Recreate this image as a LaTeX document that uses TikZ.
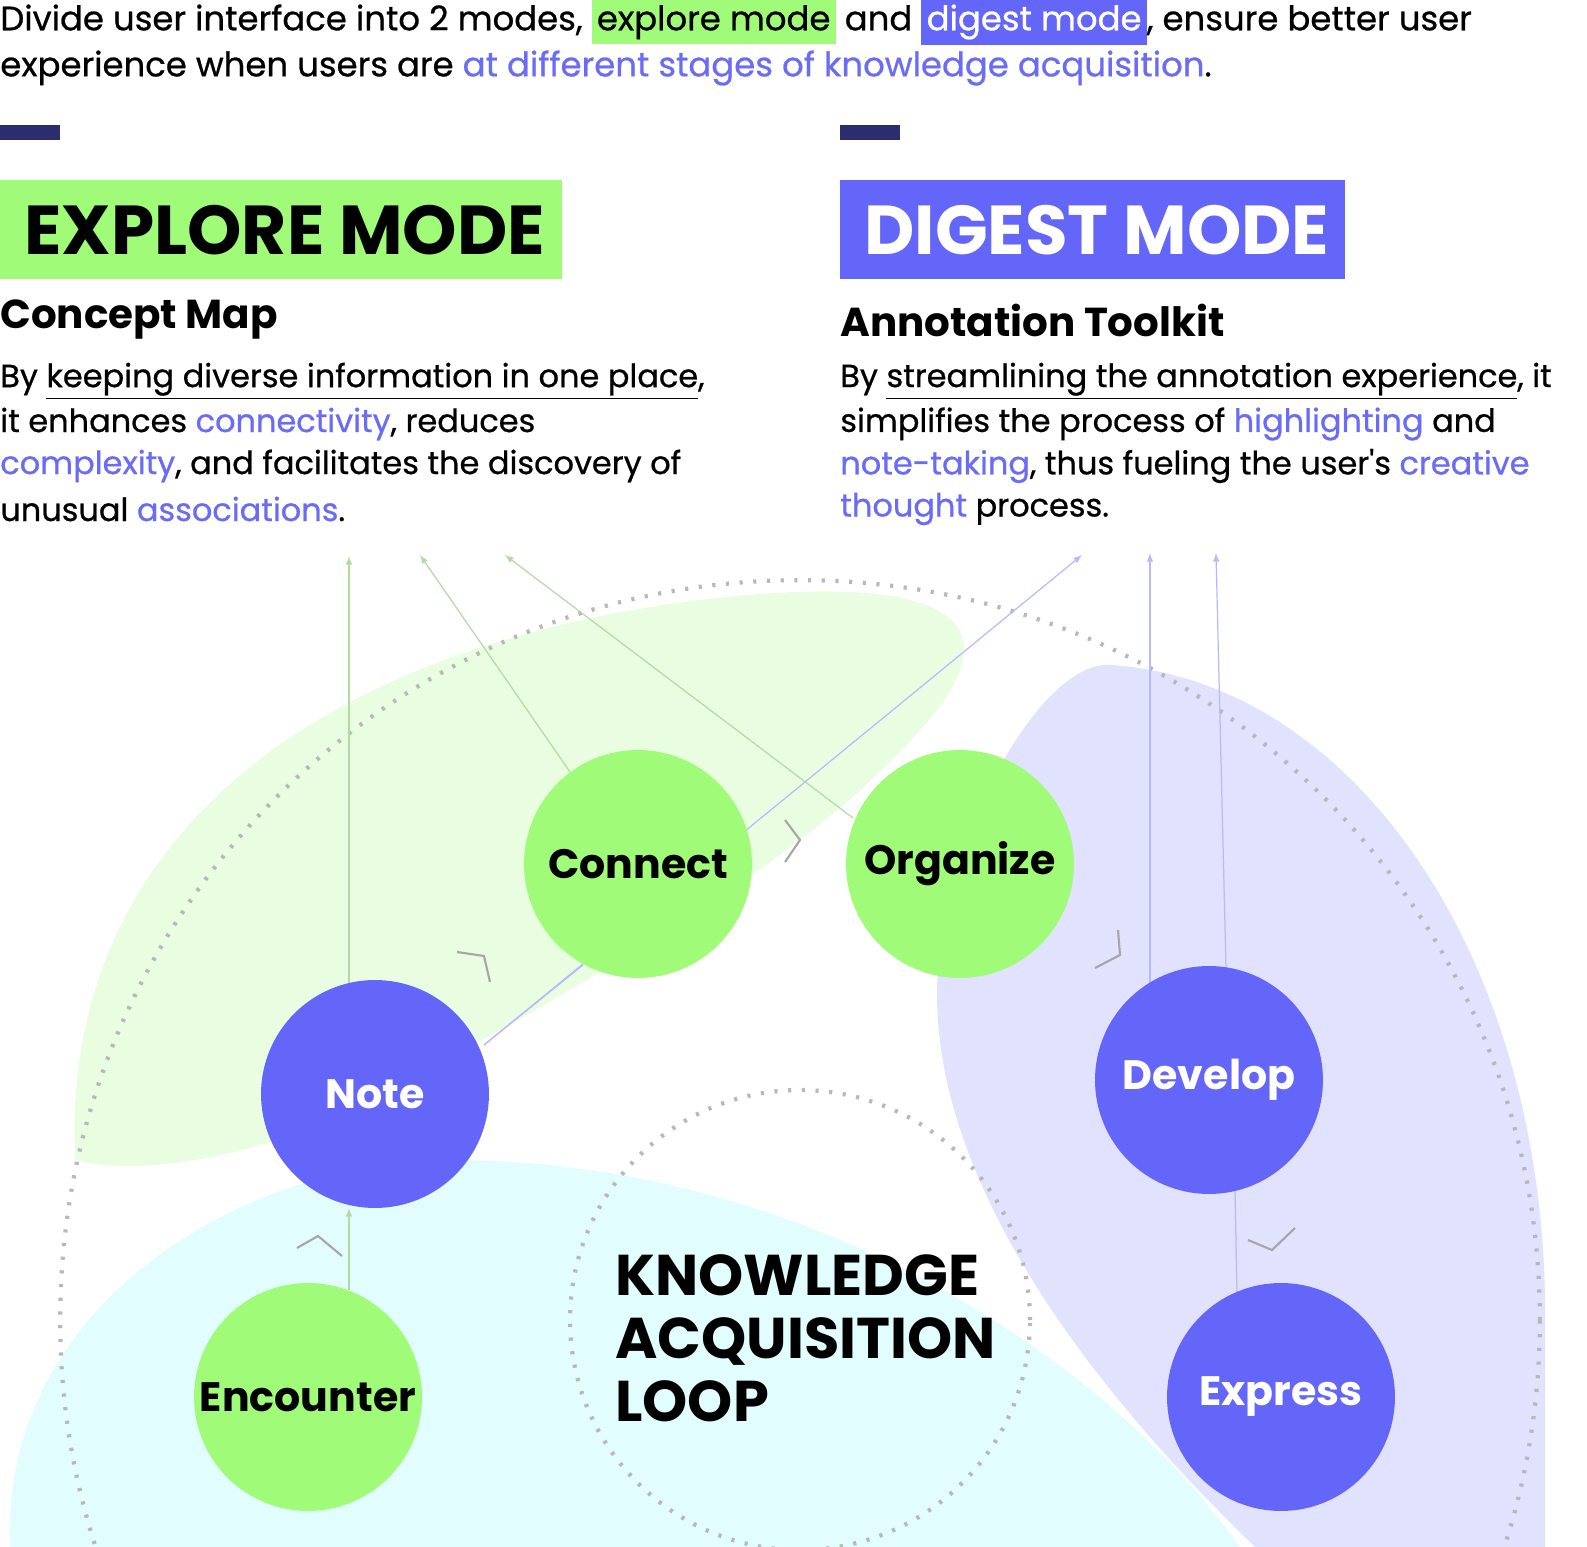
\documentclass[tikz,border=0pt]{standalone}
\usepackage{fontspec}
\setmainfont{Poppins}
\newfontfamily\medium{Poppins}[FakeBold=0.7]
\definecolor{leaf}{HTML}{A0FB78}
\definecolor{violet}{HTML}{6466FA}
\definecolor{linkblue}{HTML}{6A6CF5}
\definecolor{navy}{HTML}{2B2D6E}
\definecolor{greenbg}{HTML}{E9FDE0}
\definecolor{cyanbg}{HTML}{E1FDFD}
\definecolor{lavbg}{HTML}{E1E2FE}
\definecolor{dotgray}{HTML}{B8B8B8}
\newcommand{\hl}[1]{\textcolor{linkblue}{#1}}
\begin{document}
\begin{tikzpicture}[x=0.02cm,y=-0.02cm]
\tikzset{
  line/.style={anchor=west,inner sep=0pt,font=\medium\fontsize{19.3}{22}\selectfont},
  para/.style={anchor=west,inner sep=0pt,font=\medium\fontsize{18.2}{21}\selectfont},
  stage/.style={circle,minimum size=4.56cm,inner sep=0pt,font=\bfseries\fontsize{23.4}{26}\selectfont},
  greenstage/.style={stage,fill=leaf,text=black},
  bluestage/.style={stage,fill=violet,text=white},
  loop/.style={dotgray,line width=2.4pt,dash pattern=on 1.8pt off 6pt},
  chev/.style={gray!70,line width=1.2pt},
  glink/.style={leaf!60!gray!70,line width=0.7pt,-latex},
  blink/.style={violet!45,line width=0.7pt,-latex}
}
\useasboundingbox (0,0) rectangle (1587,1547);
% header
\node[line] (l1) at (0,22) {Divide user interface into 2 modes, \colorbox{leaf}{explore mode} and \colorbox{violet}{\textcolor{white}{digest mode}}, ensure better user};
\node[line] (l2) at (0,68) {experience when users are \hl{at different stages of knowledge acquisition}.};
\fill[navy] (0,125) rectangle (60,140);
\fill[navy] (840,125) rectangle (900,140);
\fill[leaf] (0,180) rectangle (562,279);
\fill[violet] (840,180) rectangle (1345,279);
\node[anchor=west,inner sep=0pt,font=\bfseries\fontsize{39.4}{44}\selectfont] (explore) at (24,230) {EXPLORE MODE};
\node[anchor=west,inner sep=0pt,text=white,font=\bfseries\fontsize{39.4}{44}\selectfont] (digest) at (864,230) {DIGEST MODE};
\node[anchor=west,inner sep=0pt,font=\bfseries\fontsize{23}{26}\selectfont] (cmap) at (0,320) {Concept Map};
\node[anchor=west,inner sep=0pt,font=\bfseries\fontsize{23}{26}\selectfont] (atool) at (840,320) {Annotation Toolkit};
% paragraphs
\node[para] at (0,381) {By \underline{keeping diverse information in one place},};
\node[para] at (0,424) {it enhances \hl{connectivity}, reduces};
\node[para] at (0,466) {\hl{complexity}, and facilitates the discovery of};
\node[para] at (0,509) {unusual \hl{associations}.};
\node[para] at (840,381) {By \underline{streamlining the annotation experience}, it};
\node[para] at (840,424) {simplifies the process of \hl{highlighting} and};
\node[para] at (840,466) {\hl{note-taking}, thus fueling the user's \hl{creative}};
\node[para] at (840,509) {\hl{thought} process.};
% backgrounds
\begin{scope}
\clip (0,540) rectangle (1587,1547);
\fill[greenbg] (75,1160) .. controls (60,850) and (300,650) .. (700,600) .. controls (950,570) and (1020,620) .. (920,730) .. controls (800,870) and (550,1000) .. (430,1070) .. controls (300,1150) and (150,1180) .. (75,1160) -- cycle;
\fill[cyanbg] (10,1547) .. controls (0,1300) and (250,1160) .. (450,1160) .. controls (800,1160) and (1100,1350) .. (1240,1547) -- cycle;
\fill[lavbg] (1255,1547) .. controls (1000,1300) and (920,1100) .. (940,950) .. controls (960,800) and (1050,660) .. (1110,665) .. controls (1350,680) and (1540,950) .. (1545,1300) -- (1545,1547) -- cycle;
\draw[loop] (800,1320) circle[radius=14.8cm];
\draw[loop] (800,1320) circle[radius=4.6cm];
\end{scope}
% chevrons
\draw[chev] (297,1248) -- (318,1236) -- (342,1256);
\draw[chev] (457,952) -- (484,956) -- (490,982);
\draw[chev] (785,820) -- (800,840) -- (785,862);
\draw[chev] (1118,930) -- (1120,955) -- (1095,968);
\draw[chev] (1248,1240) -- (1272,1250) -- (1295,1228);
% arrow targets
\coordinate (t1) at (349,556);
\coordinate (t2) at (420,555);
\coordinate (t3) at (505,555);
\coordinate (t4) at (1082,555);
\coordinate (t5) at (1150,553);
\coordinate (t6) at (1216,553);
\coordinate (nb) at (484,1045);
% links behind nodes
\draw[glink] (349,1290) -- (349,1208);
\draw[glink] (349,985) -- (t1);
\draw[glink] (570,772) -- (t2);
\draw[glink] (853,818) -- (t3);
\draw[blink] (nb) -- (t4);
\draw[blink] (1150,985) -- (t5);
\draw[blink] (1226,968) -- (t6);
\draw[blink,-] (1235,1190) -- (1237,1292);
% stages
\node[greenstage] (encounter) at (308,1397) {Encounter};
\node[bluestage] (note) at (375,1094) {Note};
\node[greenstage] (connect) at (638,864) {Connect};
\node[greenstage] (organize) at (960,864) {Organize};
\node[bluestage] (develop) at (1209,1080) {Develop};
\node[bluestage] (express) at (1281,1397) {Express};
\draw[blink,-] (nb) -- (583,965);
\node[anchor=west,align=left,inner sep=0pt,font=\bfseries\fontsize{32.7}{36}\selectfont] (kal) at (615,1338) {KNOWLEDGE\\ACQUISITION\\LOOP};
\end{tikzpicture}
\end{document}
